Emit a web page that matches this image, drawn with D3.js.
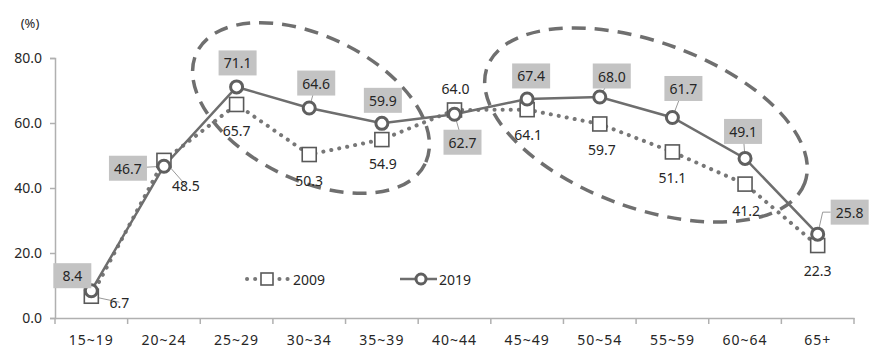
<!DOCTYPE html>
<html><head><meta charset="utf-8">
<script src="https://cdn.jsdelivr.net/npm/d3@7"></script>
<style>
html,body{margin:0;padding:0;background:#fff;}
svg{display:block;font-family:"Noto Sans","Open Sans",sans-serif;}
</style></head>
<body>
<svg id="chart" width="876" height="358"></svg>
<script>
// ---- data ----
const categories = ["15~19","20~24","25~29","30~34","35~39","40~44","45~49","50~54","55~59","60~64","65+"];
const values2009 = [6.7, 48.5, 65.7, 50.3, 54.9, 64.0, 64.1, 59.7, 51.1, 41.2, 22.3];
const values2019 = [8.4, 46.7, 71.1, 64.6, 59.9, 62.7, 67.4, 68.0, 61.7, 49.1, 25.8];
const yTicks = [0, 20, 40, 60, 80];
const seriesNames = ["2009", "2019"];

// label placement (offsets from the point, in px)
const lab2019 = [[-19,-15,1],[-36,2,1],[1,-24,0],[7,-25,1],[1,-23,0],[8,28,1],[4,-23,0],[12,-21,1],[11,-29,1],[-2,-27,1],[32,-22,2]];
const lab2009 = [[28,6,1],[22,25,1],[0,26,0],[0,26,0],[1,24,0],[1,-22,0],[1,25,0],[2,26,0],[0,26,0],[1,26,0],[0,25,0]];

const svg = d3.select("#chart");
const mLeft = 55, mRight = 854, mTop = 58, mBottom = 318;

const x = d3.scaleBand().domain(categories).range([mLeft, mRight]).padding(0);
const y = d3.scaleLinear().domain([0, 80]).range([mBottom, mTop]);
const cx = c => x(c) + x.bandwidth() / 2;

const axisColor = "#b0b0b0";
const textColor = "#262626";

// y axis
const yAxis = svg.append("g").attr("transform", `translate(${mLeft},0)`)
  .call(d3.axisLeft(y).tickValues(yTicks).tickFormat(d3.format(".1f")).tickSize(5).tickPadding(8));
yAxis.select(".domain").attr("stroke", axisColor).attr("stroke-width", 1.5);
yAxis.selectAll(".tick line").attr("stroke", axisColor).attr("stroke-width", 1.5);
yAxis.selectAll(".tick text").attr("fill", textColor).style("font-size", "14px").style("font-family", "'Noto Sans',sans-serif");

// x axis
const xAxis = svg.append("g").attr("transform", `translate(0,${mBottom})`)
  .call(d3.axisBottom(x).tickSize(0).tickPadding(17));
xAxis.select(".domain").attr("stroke", axisColor).attr("stroke-width", 1.5);
xAxis.selectAll(".tick line").remove();
xAxis.selectAll(".tick text").attr("fill", textColor).style("font-size", "14px")
  .style("font-family", "'Noto Sans',sans-serif").attr("letter-spacing", "1");
// boundary tick marks
const bounds = categories.map(c => x(c)).concat([mRight]);
xAxis.selectAll(".btick").data(bounds).enter().append("line")
  .attr("x1", d => d).attr("x2", d => d).attr("y1", 0).attr("y2", 6)
  .attr("stroke", axisColor).attr("stroke-width", 1.5);

svg.append("text").attr("x", 30).attr("y", 28).attr("text-anchor", "middle")
  .attr("fill", textColor).style("font-size", "13px").text("(%)");

// dashed ellipses
const ellipses = [
  {cx: 311, cy: 108, rx: 127, ry: 72, rot: 26},
  {cx: 646, cy: 125, rx: 169, ry: 83, rot: 20}
];
svg.selectAll(".ell").data(ellipses).enter().append("ellipse")
  .attr("cx", d => d.cx).attr("cy", d => d.cy).attr("rx", d => d.rx).attr("ry", d => d.ry)
  .attr("transform", d => `rotate(${d.rot},${d.cx},${d.cy})`)
  .attr("fill", "none").attr("stroke", "#6f6f6f").attr("stroke-width", 3.5)
  .attr("stroke-dasharray", "14 9");

const line = d3.line().x((d, i) => cx(categories[i])).y(d => y(d));

// 2009 dotted line
svg.append("path").datum(values2009).attr("d", line)
  .attr("fill", "none").attr("stroke", "#777").attr("stroke-width", 4)
  .attr("stroke-linecap", "round").attr("stroke-dasharray", "0.1 8");

// 2019 solid line
svg.append("path").datum(values2019).attr("d", line)
  .attr("fill", "none").attr("stroke", "#6e6e6e").attr("stroke-width", 2.5);

// leader lines
function leaders(vals, labs) {
  vals.forEach((v, i) => {
    const L = labs[i];
    if (!L[2]) return;
    const px = cx(categories[i]), py = y(v);
    if (L[2] === 2) {
      const bx = px + L[0] - 19;
      svg.append("path").attr("d", `M${bx},${py + L[1]} H${bx - 8} L${px},${py}`)
        .attr("fill", "none").attr("stroke", "#999").attr("stroke-width", 1);
    } else {
      svg.append("line").attr("x1", px).attr("y1", py).attr("x2", px + L[0]).attr("y2", py + L[1])
        .attr("stroke", "#999").attr("stroke-width", 1);
    }
  });
}
leaders(values2009, lab2009);
leaders(values2019, lab2019);

// 2009 squares
svg.selectAll(".sq").data(values2009).enter().append("rect")
  .attr("x", (d, i) => cx(categories[i]) - 7).attr("y", d => y(d) - 7)
  .attr("width", 14).attr("height", 14)
  .attr("fill", "#fff").attr("stroke", "#595959").attr("stroke-width", 1.6);

// 2019 circles
svg.selectAll(".ci").data(values2019).enter().append("circle")
  .attr("cx", (d, i) => cx(categories[i])).attr("cy", d => y(d)).attr("r", 6)
  .attr("fill", "#fff").attr("stroke", "#5f5f5f").attr("stroke-width", 3);

// 2009 labels (plain)
svg.selectAll(".l9").data(values2009).enter().append("text")
  .attr("x", (d, i) => cx(categories[i]) + lab2009[i][0])
  .attr("y", (d, i) => y(d) + lab2009[i][1])
  .attr("text-anchor", "middle").attr("dominant-baseline", "central")
  .attr("fill", textColor).style("font-size", "14px")
  .text(d => d3.format(".1f")(d));

// 2019 labels (boxed)
const g19 = svg.selectAll(".l19").data(values2019).enter().append("g")
  .attr("transform", (d, i) => `translate(${cx(categories[i]) + lab2019[i][0]},${y(d) + lab2019[i][1]})`);
g19.append("rect").attr("x", -19).attr("y", -12.5).attr("width", 38).attr("height", 25).attr("fill", "#c3c3c3");
g19.append("text").attr("text-anchor", "middle").attr("dominant-baseline", "central")
  .attr("fill", textColor).style("font-size", "14px").text(d => d3.format(".1f")(d));

// legend
const ly = 279;
const lg1 = svg.append("g");
lg1.append("line").attr("x1", 247).attr("x2", 288).attr("y1", ly).attr("y2", ly)
  .attr("stroke", "#777").attr("stroke-width", 4).attr("stroke-linecap", "round").attr("stroke-dasharray", "0.1 8");
lg1.append("rect").attr("x", 261).attr("y", ly - 6).attr("width", 12).attr("height", 12)
  .attr("fill", "#fff").attr("stroke", "#595959").attr("stroke-width", 1.6);
lg1.append("text").attr("x", 293).attr("y", ly).attr("dominant-baseline", "central")
  .attr("fill", textColor).style("font-size", "14px").text(seriesNames[0]);
const lg2 = svg.append("g");
lg2.append("line").attr("x1", 400).attr("x2", 437).attr("y1", ly).attr("y2", ly)
  .attr("stroke", "#6e6e6e").attr("stroke-width", 2.5);
lg2.append("circle").attr("cx", 421).attr("cy", ly).attr("r", 5)
  .attr("fill", "#fff").attr("stroke", "#5f5f5f").attr("stroke-width", 3);
lg2.append("text").attr("x", 439).attr("y", ly).attr("dominant-baseline", "central")
  .attr("fill", textColor).style("font-size", "14px").text(seriesNames[1]);
</script>
</body></html>
